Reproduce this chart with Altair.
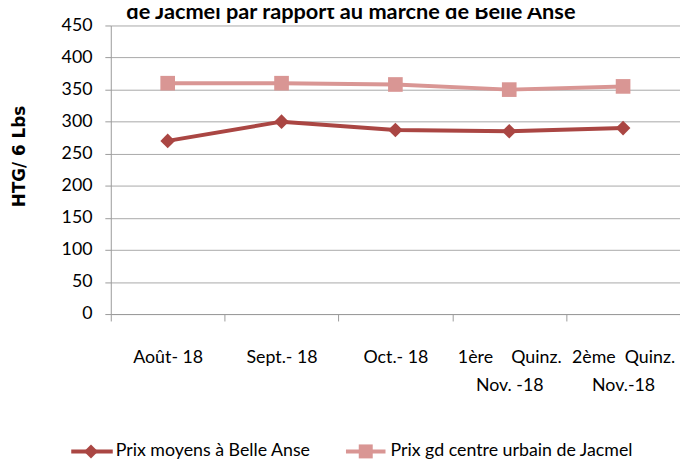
import altair as alt
import pandas as pd

categories = ["Août- 18", "Sept.- 18", "Oct.- 18",
              "1ère\u00a0\u00a0\u00a0 Quinz.|Nov. -18", "2ème\u00a0 Quinz.|Nov.-18"]
series_names = ["Prix moyens à Belle Anse", "Prix gd centre urbain de Jacmel"]
belle_anse = [270, 300, 287, 285, 290]
jacmel = [360, 360, 358, 350, 355]
y_ticks = [0, 50, 100, 150, 200, 250, 300, 350, 400, 450]
colors = ["#AA4643", "#D99694"]
shapes = ["diamond", "square"]
title_text = "de Jacmel par rapport au marché de Belle Anse"

rows = []
for s, vals in zip(series_names, [belle_anse, jacmel]):
    for c, v in zip(categories, vals):
        rows.append({"cat": c, "series": s, "price": v})
df = pd.DataFrame(rows)

FONT = "Lato, Liberation Sans, sans-serif"
GRAY = "#9a9a9a"

x = alt.X("cat:N", sort=categories,
          scale=alt.Scale(type="band", paddingInner=0, paddingOuter=0),
          axis=alt.Axis(title=None, labelExpr="split(datum.label, '|')", labelAngle=0,
                        tickBand="extent", tickSize=7, labelPadding=28,
                        labelFont=FONT, labelFontSize=18, labelColor="#000000",
                        labelLineHeight=28, labelBaseline="top",
                        domainColor=GRAY, tickColor=GRAY, grid=False))
y = alt.Y("price:Q", scale=alt.Scale(domain=[0, 450], nice=False, zero=True),
          axis=alt.Axis(values=y_ticks, title="HTG/ 6 Lbs", tickSize=6, labelPadding=13,
                        labelFont=FONT, labelFontSize=18, labelColor="#000000",
                        domainColor=GRAY, tickColor=GRAY, gridColor="#a8a8a8",
                        titleFont="DejaVu Sans", titleFontWeight="bold", titleFontSize=17,
                        titleColor="#000000", titleX=-92, titleY=132, titleBaseline="middle"))
color = alt.Color("series:N", scale=alt.Scale(domain=series_names, range=colors), legend=None)
shape = alt.Shape("series:N", scale=alt.Scale(domain=series_names, range=shapes), legend=None)

base = alt.Chart(df)
lines = base.mark_line(strokeWidth=4).encode(x=x, y=y, color=color,
                                            detail="series:N")
points = base.mark_point(filled=True, opacity=1, size=220).encode(x=x, y=y, color=color, shape=shape)

one = pd.DataFrame({"k": [0]})
ly = 431
leg = []
legend_pos = [(-40, 2, -20, 5), (238, 278, 258, 283)]
for name, c, shp, (x0, x1, xm, xt) in zip(series_names, colors, shapes, legend_pos):
    leg.append(alt.Chart(one).mark_rule(strokeWidth=4, color=c).encode(
        x=alt.value(x0), x2=alt.value(x1), y=alt.value(ly)))
    leg.append(alt.Chart(one).mark_point(shape=shp, filled=True, opacity=1, size=200, color=c).encode(
        x=alt.value(xm), y=alt.value(ly)))
    leg.append(alt.Chart(one).mark_text(align="left", baseline="middle", font=FONT,
                                        fontSize=18, color="#000000").encode(
        x=alt.value(xt), y=alt.value(ly), text=alt.value(name)))

title = alt.Chart(one).mark_text(align="center", baseline="alphabetic", font=FONT,
                                 fontSize=22, fontWeight="bold", color="#000000").encode(
    x=alt.value(243), y=alt.value(-7), text=alt.value(title_text))

chart = alt.layer(lines, points, *leg, title).properties(
    width=576, height=292,
    autosize=alt.AutoSizeParams(type="none"),
    padding={"left": 104, "top": 15, "right": 0, "bottom": 146},
    background="white",
).configure_view(strokeWidth=0)

chart.save("out.html", embed_options={"renderer": "svg", "actions": False})
